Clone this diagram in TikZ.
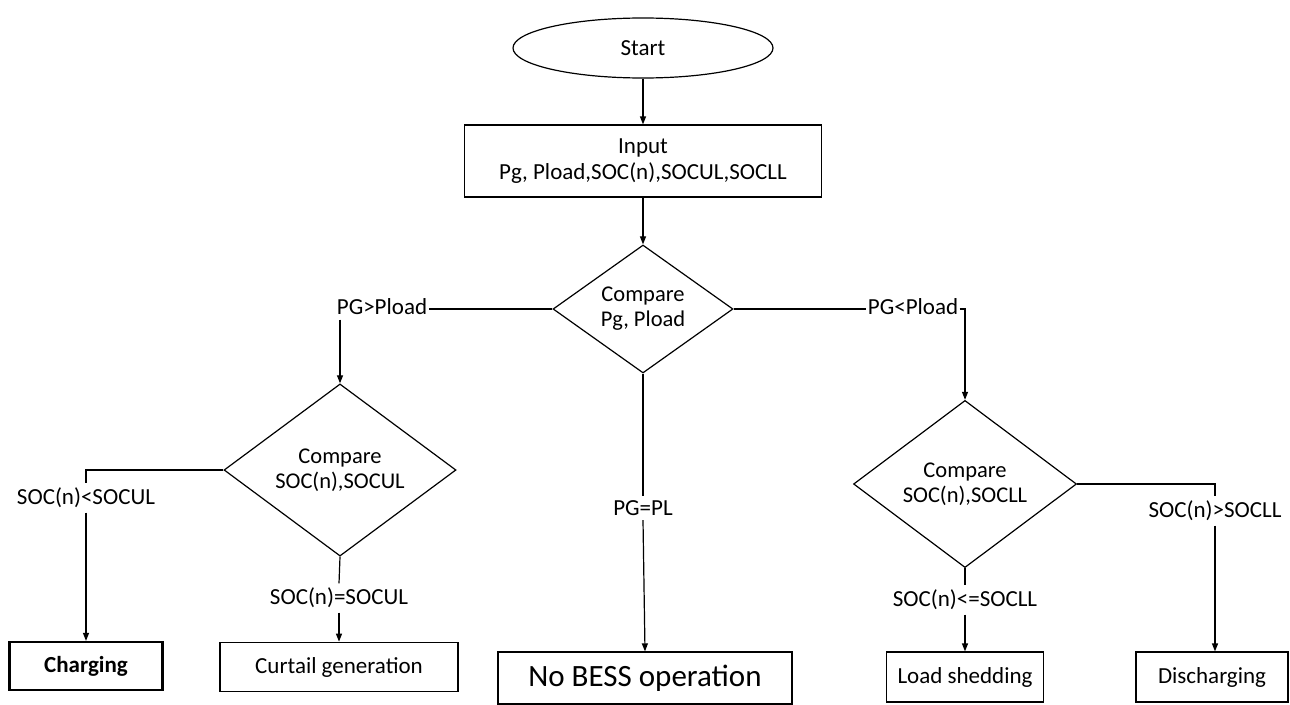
\documentclass[tikz,border=0pt]{standalone}
\usepackage{fontspec}
\setmainfont{Carlito}
\usetikzlibrary{shapes.geometric,arrows.meta}
\begin{document}
\begin{tikzpicture}[x=1pt,y=-1pt,
  line width=1.2pt,
  >={Triangle[length=8pt,width=6pt]},
  base/.style={font=\fontsize{23}{26}\selectfont},
  box/.style={base,draw,rectangle,inner sep=0pt,align=center},
  dec/.style={draw,diamond,inner sep=0pt,align=center,font=\fontsize{22.5}{25}\selectfont},
  lab/.style={base,inner sep=4pt},
  hlab/.style={base,inner xsep=1pt,inner ysep=4pt}]
\useasboundingbox (0,0) rectangle (1290,704);
% nodes
\node[base,draw,ellipse,minimum width=260pt,minimum height=60pt] (start) at (643,48) {Start};
\node[box,minimum width=357pt,minimum height=72pt] (input) at (643,161) {Input\\Pg, Pload,SOC(n),SOCUL,SOCLL};
\node[dec,minimum width=180pt,minimum height=128pt] (d1) at (643,309) {Compare\\Pg, Pload};
\node[dec,minimum width=232pt,minimum height=124pt] (d2) at (340,470) {Compare\\SOC(n),SOCUL};
\node[dec,minimum width=223pt,minimum height=118pt] (d3) at (965,484) {Compare\\SOC(n),SOCLL};
\node[box,line width=2.2pt,font=\bfseries\fontsize{23}{26}\selectfont,minimum width=153pt,minimum height=48pt] (chg) at (86,666) {Charging};
\node[box,line width=1.8pt,minimum width=238pt,minimum height=49pt] (cur) at (339,667) {Curtail generation};
\node[box,font=\fontsize{31}{34}\selectfont,minimum width=294pt,minimum height=52pt] (nob) at (645,678) {No BESS operation};
\node[box,minimum width=157pt,minimum height=50pt] (shed) at (965,677) {Load shedding};
\node[box,minimum width=152pt,minimum height=50pt] (dis) at (1212,677) {Discharging};
% labels
\node[hlab] (lgt) at (382,307) {PG>Pload};
\node[hlab] (llt) at (913,307) {PG<Pload};
\node[lab] (lpl) at (643,508) {PG=PL};
\node[lab] (lchg) at (86,498) {SOC(n)<SOCUL};
\node[lab] (lcur) at (339,598) {SOC(n)=SOCUL};
\node[lab] (lshed) at (965,600) {SOC(n)<=SOCLL};
\node[lab] (ldis) at (1215,511) {SOC(n)>SOCLL};
% connectors
\draw[->] (start) -- (input);
\draw[->] (input) -- (d1);
\draw (d1.west) -- (d1.west -| lgt.east);
\draw[->] (lgt.south -| d2.north) -- (d2.north);
\draw (d1.east) -- (d1.east -| llt.west);
\draw[->] (d1.east -| llt.east) -| (d3.north);
\draw (d1.south) -- (lpl.north);
\draw[->] (lpl.south) -- (nob.north);
\draw (d2.west) -| (lchg.north);
\draw[->] (lchg.south) -- (lchg.south |- chg.north);
\draw (d2.south) -- (lcur.north);
\draw[->] (lcur.south) -- (cur.north);
\draw (d3.south) -- (lshed.north);
\draw[->] (lshed.south) -- (shed.north);
\draw (d3.east) -| (ldis.north);
\draw[->] (ldis.south) -- (ldis.south |- dis.north);
\end{tikzpicture}
\end{document}
